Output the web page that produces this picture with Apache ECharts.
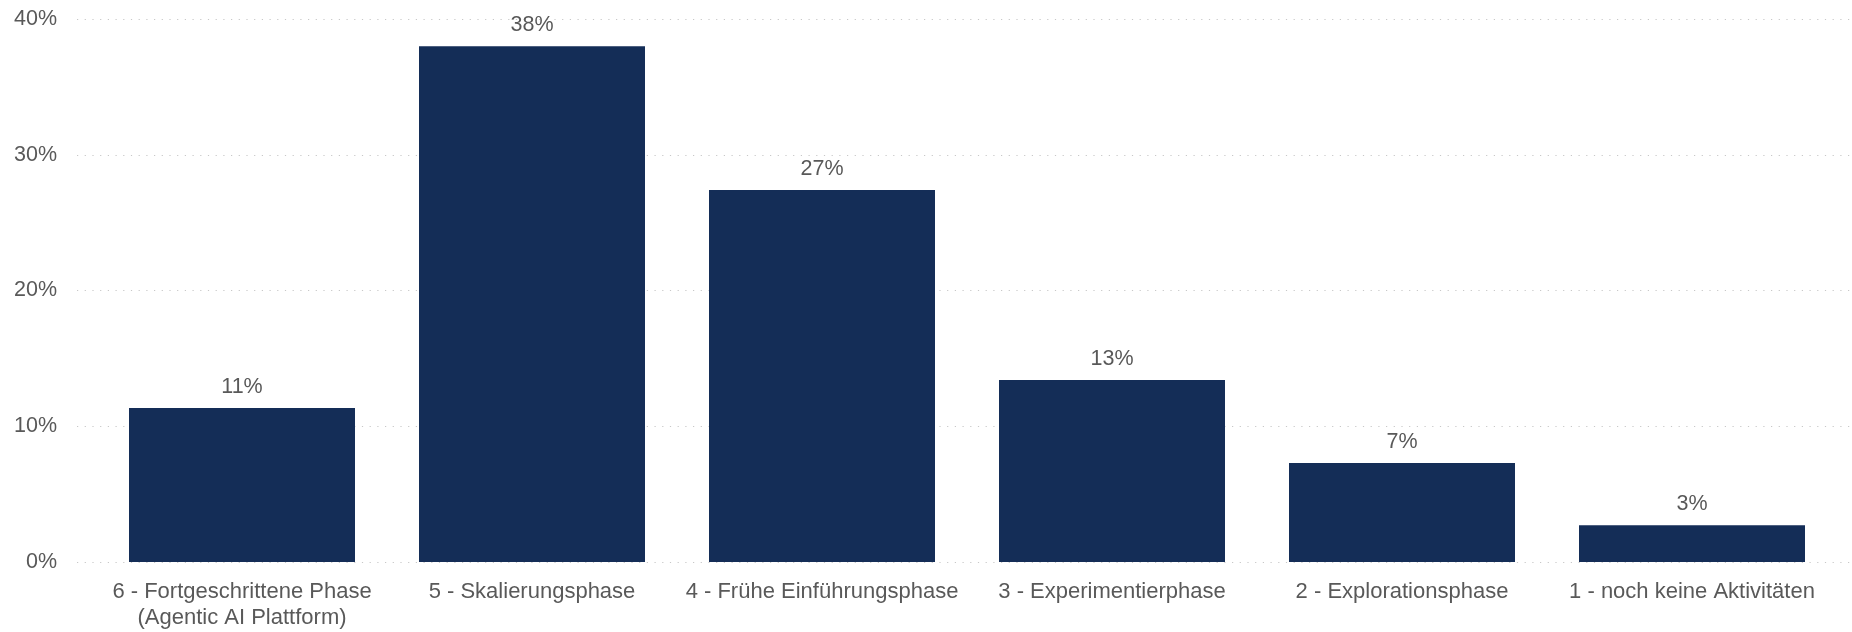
<!DOCTYPE html>
<html>
<head>
<meta charset="utf-8">
<script src="https://cdn.jsdelivr.net/npm/echarts@6/dist/echarts.min.js"></script>
<style>
  html, body { margin: 0; padding: 0; background: #ffffff; }
  #chart { width: 1852px; height: 632px; }
</style>
</head>
<body>
<div id="chart"></div>
<script>
// Reifegrad-Phasen (Anteil der Antworten in %)
const categories = [
  '6 - Fortgeschrittene Phase\n(Agentic AI Plattform)',
  '5 - Skalierungsphase',
  '4 - Frühe Einführungsphase',
  '3 - Experimentierphase',
  '2 - Explorationsphase',
  '1 - noch keine Aktivitäten'
];
const shares = [11.35, 38.0, 27.4, 13.4, 7.3, 2.7];
const yTicks = [0, 10, 20, 30, 40];

const FONT = '"Liberation Sans", Arial, sans-serif';
const TEXT = '#595959';
const BAR = '#142d57';

const chart = echarts.init(document.getElementById('chart'));
chart.setOption({
  animation: false,
  backgroundColor: '#ffffff',
  grid: [
    // full-width grid carrying the y labels and dotted guide lines
    { left: 77, right: 0, top: 19, bottom: 70 },
    // inner grid holding the bars
    { left: 97, right: 15, top: 19, bottom: 70 }
  ],
  xAxis: [
    { type: 'category', gridIndex: 0, data: categories, show: false },
    {
      type: 'category', gridIndex: 1, data: categories,
      axisLine: { show: false }, axisTick: { show: false },
      axisLabel: {
        interval: 0, margin: 17, color: TEXT, fontFamily: FONT,
        fontSize: 22, lineHeight: 26
      }
    }
  ],
  yAxis: [
    {
      type: 'value', gridIndex: 0,
      min: yTicks[0], max: yTicks[yTicks.length - 1], interval: 10,
      axisLine: { show: false }, axisTick: { show: false },
      axisLabel: {
        margin: 20, color: TEXT, fontFamily: FONT, fontSize: 21.5,
        formatter: '{value}%'
      },
      splitLine: {
        lineStyle: { color: '#c8c8c8', width: 1.2, type: [1.2, 6.5] }
      }
    },
    {
      type: 'value', gridIndex: 1,
      min: yTicks[0], max: yTicks[yTicks.length - 1], interval: 10,
      show: false, splitLine: { show: false }
    }
  ],
  series: [{
    type: 'bar',
    xAxisIndex: 1, yAxisIndex: 1,
    data: shares,
    barWidth: 226,
    itemStyle: { color: BAR },
    label: {
      show: true, position: 'top', distance: 10,
      color: TEXT, fontFamily: FONT, fontSize: 21.5,
      formatter: p => Math.round(p.value) + '%'
    }
  }]
});
</script>
</body>
</html>
